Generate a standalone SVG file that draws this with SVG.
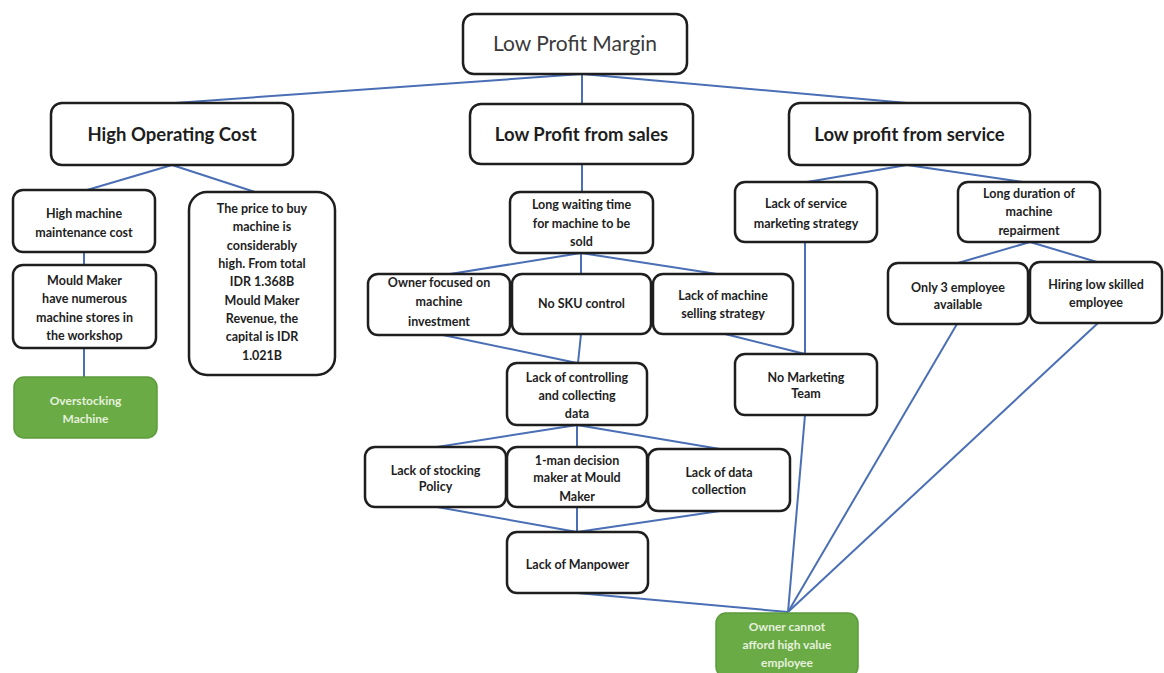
<svg xmlns="http://www.w3.org/2000/svg" width="1164" height="673" viewBox="0 0 1164 673">
<style>
.b{fill:#fff;stroke:#1e1e1e;stroke-width:2.5}
.g{fill:#6aab45;stroke:#5c9a3c;stroke-width:1.5}
.t{font-family:Lato,"Liberation Sans",sans-serif;font-weight:bold;font-size:12.5px;fill:#1e1e1e;text-anchor:middle}
.h{font-family:Lato,"Liberation Sans",sans-serif;font-weight:bold;font-size:18.5px;fill:#1e1e1e;text-anchor:middle}
.w{font-family:Lato,"Liberation Sans",sans-serif;font-weight:bold;font-size:12px;fill:#e6f1de;text-anchor:middle}
.c line{stroke:#4a6fb5;stroke-width:2}
</style>
<rect width="1164" height="673" fill="#fff"/>
<g class="c" id="connectors">
<line x1="582" y1="74" x2="175" y2="103"/>
<line x1="582" y1="74" x2="582" y2="104"/>
<line x1="582" y1="74" x2="907" y2="103"/>
<line x1="172" y1="165" x2="87" y2="190"/>
<line x1="172" y1="165" x2="255" y2="192"/>
<line x1="84" y1="252" x2="84" y2="265"/>
<line x1="84" y1="348" x2="84" y2="377"/>
<line x1="582" y1="164" x2="582" y2="192"/>
<line x1="907" y1="165" x2="807" y2="182"/>
<line x1="907" y1="165" x2="1023" y2="182"/>
<line x1="581" y1="253" x2="450" y2="274"/>
<line x1="581" y1="253" x2="581" y2="274"/>
<line x1="581" y1="253" x2="717" y2="274"/>
<line x1="443" y1="335" x2="577" y2="363"/>
<line x1="581" y1="334" x2="578" y2="363"/>
<line x1="725" y1="334" x2="805" y2="354"/>
<line x1="805" y1="242" x2="805" y2="354"/>
<line x1="1030" y1="242" x2="958" y2="263"/>
<line x1="1030" y1="242" x2="1097" y2="262"/>
<line x1="577" y1="425" x2="437" y2="447"/>
<line x1="577" y1="425" x2="577" y2="447"/>
<line x1="577" y1="425" x2="720" y2="449"/>
<line x1="437" y1="507" x2="577" y2="532"/>
<line x1="577" y1="507" x2="577" y2="532"/>
<line x1="720" y1="511" x2="577" y2="532"/>
<line x1="577" y1="593" x2="788" y2="612"/>
<line x1="805" y1="415" x2="788" y2="612"/>
<line x1="957" y1="324" x2="788" y2="612"/>
<line x1="1098" y1="323" x2="788" y2="612"/>
</g>
<g id="lpm"><rect class="b" x="463" y="14" width="224" height="60" rx="11"/><text x="575" y="51" style="font-family:Lato,'Liberation Sans',sans-serif;font-size:21px;fill:#3a3a3a;text-anchor:middle">Low Profit Margin</text></g>
<g id="hoc"><rect class="b" x="51" y="103" width="242" height="62" rx="11"/><text class="h" x="172" y="141">High Operating Cost</text></g>
<g id="lps"><rect class="b" x="470" y="104" width="223" height="60" rx="11"/><text class="h" x="581.5" y="141">Low Profit from sales</text></g>
<g id="lpsv"><rect class="b" x="789" y="103" width="241" height="62" rx="11"/><text class="h" x="909.5" y="141">Low profit from service</text></g>
<g id="hmm"><rect class="b" x="13" y="190" width="142" height="62" rx="10"/><text class="t" x="84" y="218">High machine</text><text class="t" x="84" y="237">maintenance cost</text></g>
<g id="mm"><rect class="b" x="13" y="265" width="143" height="83" rx="10"/><text class="t" x="84.5" y="285">Mould Maker</text><text class="t" x="84.5" y="303">have numerous</text><text class="t" x="84.5" y="322">machine stores in</text><text class="t" x="84.5" y="340">the workshop</text></g>
<g id="over"><rect class="g" x="14" y="377" width="143" height="61" rx="10"/><text class="w" x="85.5" y="405">Overstocking</text><text class="w" x="85.5" y="423">Machine</text></g>
<g id="price"><rect class="b" x="189" y="192" width="146" height="183" rx="18"/><text class="t" x="262" y="213">The price to buy</text><text class="t" x="262" y="231">machine is</text><text class="t" x="262" y="250">considerably</text><text class="t" x="262" y="268">high. From total</text><text class="t" x="262" y="286">IDR 1.368B</text><text class="t" x="262" y="305">Mould Maker</text><text class="t" x="262" y="323">Revenue, the</text><text class="t" x="262" y="341">capital is IDR</text><text class="t" x="262" y="360">1.021B</text></g>
<g id="lwt"><rect class="b" x="510" y="192" width="143" height="61" rx="10"/><text class="t" x="581.5" y="209">Long waiting time</text><text class="t" x="581.5" y="228">for machine to be</text><text class="t" x="581.5" y="246">sold</text></g>
<g id="owner"><rect class="b" x="368" y="274" width="142" height="61" rx="10"/><text class="t" x="439" y="287">Owner focused on</text><text class="t" x="439" y="306">machine</text><text class="t" x="439" y="326">investment</text></g>
<g id="nosku"><rect class="b" x="512" y="274" width="139" height="60" rx="10"/><text class="t" x="581.5" y="308">No SKU control</text></g>
<g id="lmss"><rect class="b" x="653" y="274" width="140" height="60" rx="10"/><text class="t" x="723" y="300">Lack of machine</text><text class="t" x="723" y="318">selling strategy</text></g>
<g id="lcc"><rect class="b" x="507" y="363" width="140" height="62" rx="10"/><text class="t" x="577" y="382">Lack of controlling</text><text class="t" x="577" y="400">and collecting</text><text class="t" x="577" y="418">data</text></g>
<g id="lsms"><rect class="b" x="735" y="182" width="142" height="60" rx="10"/><text class="t" x="806" y="208">Lack of service</text><text class="t" x="806" y="228">marketing strategy</text></g>
<g id="ldmr"><rect class="b" x="958" y="182" width="142" height="60" rx="10"/><text class="t" x="1029" y="198">Long duration of</text><text class="t" x="1029" y="216">machine</text><text class="t" x="1029" y="235">repairment</text></g>
<g id="only3"><rect class="b" x="888" y="263" width="140" height="61" rx="10"/><text class="t" x="958" y="292">Only 3 employee</text><text class="t" x="958" y="309">available</text></g>
<g id="hiring"><rect class="b" x="1030" y="262" width="132" height="61" rx="10"/><text class="t" x="1096" y="289">Hiring low skilled</text><text class="t" x="1096" y="307">employee</text></g>
<g id="nmt"><rect class="b" x="735" y="354" width="142" height="61" rx="10"/><text class="t" x="806" y="382">No Marketing</text><text class="t" x="806" y="398">Team</text></g>
<g id="lsp"><rect class="b" x="365" y="447" width="141" height="60" rx="10"/><text class="t" x="435.5" y="475">Lack of stocking</text><text class="t" x="435.5" y="491">Policy</text></g>
<g id="oneman"><rect class="b" x="507" y="447" width="140" height="60" rx="10"/><text class="t" x="577" y="465">1-man decision</text><text class="t" x="577" y="482">maker at Mould</text><text class="t" x="577" y="501">Maker</text></g>
<g id="ldc"><rect class="b" x="648" y="449" width="142" height="62" rx="10"/><text class="t" x="719" y="477">Lack of data</text><text class="t" x="719" y="494">collection</text></g>
<g id="lmp"><rect class="b" x="507" y="532" width="141" height="61" rx="10"/><text class="t" x="577.5" y="569">Lack of Manpower</text></g>
<g id="oca"><rect class="g" x="716" y="613" width="142" height="64" rx="10"/><text class="w" x="787" y="631">Owner cannot</text><text class="w" x="787" y="649">afford high value</text><text class="w" x="787" y="667">employee</text></g>
</svg>
